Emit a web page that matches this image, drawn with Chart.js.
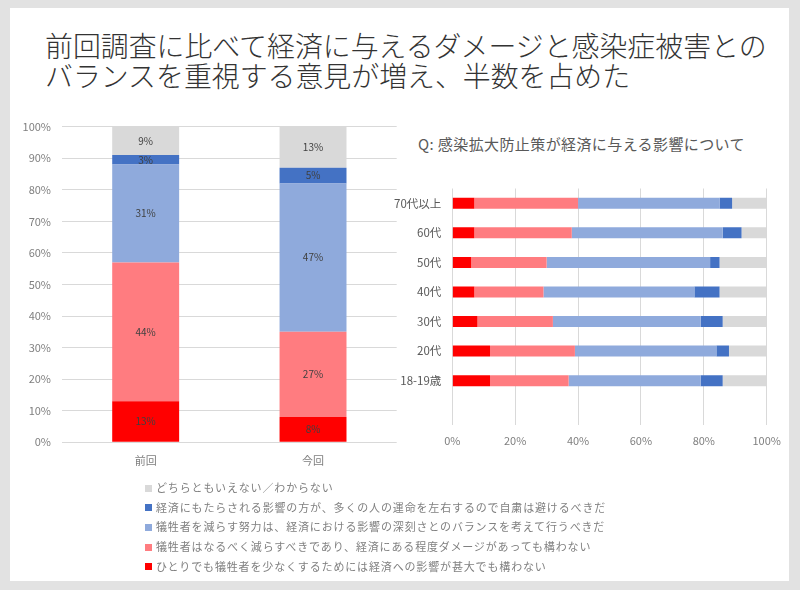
<!DOCTYPE html>
<html><head><meta charset="utf-8">
<script src="https://cdn.jsdelivr.net/npm/chart.js@4"></script>
<style>
html,body{margin:0;padding:0;}
body{width:800px;height:590px;background:#e2e2e2;position:relative;overflow:hidden;font-family:"Noto Sans CJK JP","Noto Sans",sans-serif;}
#slide{position:absolute;left:10px;top:8px;width:779px;height:573px;background:#fff;}
#title{position:absolute;left:45px;top:30px;font-size:27.9px;font-weight:300;line-height:30px;color:#333;white-space:nowrap;}
#qtitle{position:absolute;left:418px;top:134px;font-size:15px;letter-spacing:0.4px;line-height:20px;color:#595959;white-space:nowrap;}
#c1{position:absolute;left:0;top:100px;}
#c2{position:absolute;left:380px;top:170px;}
#legend{position:absolute;left:145px;top:478px;font-size:11px;letter-spacing:0.85px;color:#808080;}
.li{height:19.7px;line-height:19.7px;white-space:nowrap}
.sw{display:inline-block;width:7px;height:7px;margin-right:4px;vertical-align:middle;position:relative;top:-1px}
</style>
</head><body>
<div id="slide"></div>
<div id="title">前回調査に比べて経済に与えるダメージと感染症被害との<br>バランスを重視する意見が増え、半数を占めた</div>
<div id="qtitle">Q: 感染拡大防止策が経済に与える影響について</div>
<canvas id="c1" width="410" height="380"></canvas>
<canvas id="c2" width="410" height="290"></canvas>
<div id="legend"></div>
<script>
// Series (answer options), in stacking order bottom -> top
const seriesNames = [
  'ひとりでも犠牲者を少なくするためには経済への影響が甚大でも構わない',
  '犠牲者はなるべく減らすべきであり、経済にある程度ダメージがあっても構わない',
  '犠牲者を減らす努力は、経済における影響の深刻さとのバランスを考えて行うべきだ',
  '経済にもたらされる影響の方が、多くの人の運命を左右するので自粛は避けるべきだ',
  'どちらともいえない／わからない'
];
const seriesColors = ['#FF0000', '#FF7C80', '#8FAADC', '#4472C4', '#D9D9D9'];

// Left chart: survey comparison
const surveyCats = ['前回', '今回'];
const surveyRed = [13, 8];
const surveyPink = [44, 27];
const surveyLightBlue = [31, 47];
const surveyDarkBlue = [3, 5];
const surveyGrey = [9, 13];

// Right chart: by age group (last category intentionally blank)
const ageCats = ['70代以上', '60代', '50代', '40代', '30代', '20代', '18-19歳', ''];
const ageRed = [7, 7, 6, 7, 8, 12, 12, null];
const agePink = [33, 31, 24, 22, 24, 27, 25, null];
const ageLightBlue = [45, 48, 52, 48, 47, 45, 42, null];
const ageDarkBlue = [4, 6, 3, 8, 7, 4, 7, null];
const ageGrey = [11, 8, 15, 15, 14, 12, 14, null];

const FONT = '"Noto Sans CJK JP", "Noto Sans", sans-serif';

const leftSeries = [surveyRed, surveyPink, surveyLightBlue, surveyDarkBlue, surveyGrey];
const rightSeries = [ageRed, agePink, ageLightBlue, ageDarkBlue, ageGrey];

const segLabels = {
  id: 'segLabels',
  afterDatasetsDraw(chart) {
    const ctx = chart.ctx;
    ctx.save();
    ctx.font = '10px ' + FONT;
    ctx.fillStyle = '#404040';
    ctx.textAlign = 'center';
    ctx.textBaseline = 'middle';
    chart.data.datasets.forEach((ds, i) => {
      chart.getDatasetMeta(i).data.forEach((bar, j) => {
        const v = ds.data[j];
        if (v == null) return;
        const p = bar.getCenterPoint();
        ctx.fillText(v + '%', p.x, p.y);
      });
    });
    ctx.restore();
  }
};

new Chart(document.getElementById('c1'), {
  type: 'bar',
  data: {
    labels: surveyCats,
    datasets: leftSeries.map((d, i) => ({
      label: seriesNames[i], data: d, backgroundColor: seriesColors[i],
      borderWidth: 0, barPercentage: 0.4, categoryPercentage: 1
    }))
  },
  options: {
    responsive: false, animation: false,
    layout: { padding: { left: 0, right: 13.3, top: 26.7, bottom: 7.7 } },
    plugins: { legend: { display: false }, tooltip: { enabled: false } },
    scales: {
      x: {
        stacked: true, grid: { display: false, drawTicks: false }, border: { display: false },
        ticks: { color: '#7f7f7f', font: { size: 11, family: FONT }, padding: 12 },
        afterFit(s) { s.height = 30; }
      },
      y: {
        stacked: true, min: 0, max: 100,
        ticks: { stepSize: 10, callback: v => v + '%', color: '#7f7f7f', font: { size: 11, family: FONT }, padding: 11 },
        grid: { color: '#d9d9d9', drawTicks: false }, border: { display: false },
        afterFit(s) { s.width = 62; }
      }
    }
  },
  plugins: [segLabels]
});

new Chart(document.getElementById('c2'), {
  type: 'bar',
  data: {
    labels: ageCats,
    datasets: rightSeries.map((d, i) => ({
      label: seriesNames[i], data: d, backgroundColor: seriesColors[i],
      borderWidth: 0, barPercentage: 0.37, categoryPercentage: 1
    }))
  },
  options: {
    indexAxis: 'y',
    responsive: false, animation: false,
    layout: { padding: { left: 0, right: 23.3, top: 18.5, bottom: 10 } },
    plugins: { legend: { display: false }, tooltip: { enabled: false } },
    scales: {
      x: {
        stacked: true, min: 0, max: 100,
        ticks: { stepSize: 20, callback: v => v + '%', color: '#7f7f7f', font: { size: 11, family: FONT }, padding: 9 },
        grid: { color: '#d9d9d9', drawTicks: false }, border: { display: false },
        afterFit(s) { s.height = 25; }
      },
      y: {
        stacked: true, grid: { display: false, drawTicks: false }, border: { display: false },
        ticks: { color: '#595959', font: { size: 11.5, family: FONT }, padding: 11 },
        afterFit(s) { s.width = 72.3; }
      }
    }
  }
});

// Legend (top-to-bottom = reverse stacking order)
const legend = document.getElementById('legend');
for (let i = seriesNames.length - 1; i >= 0; i--) {
  const row = document.createElement('div');
  row.className = 'li';
  const sw = document.createElement('span');
  sw.className = 'sw';
  sw.style.background = seriesColors[i];
  row.appendChild(sw);
  row.appendChild(document.createTextNode(seriesNames[i]));
  legend.appendChild(row);
}
</script>
</body></html>
